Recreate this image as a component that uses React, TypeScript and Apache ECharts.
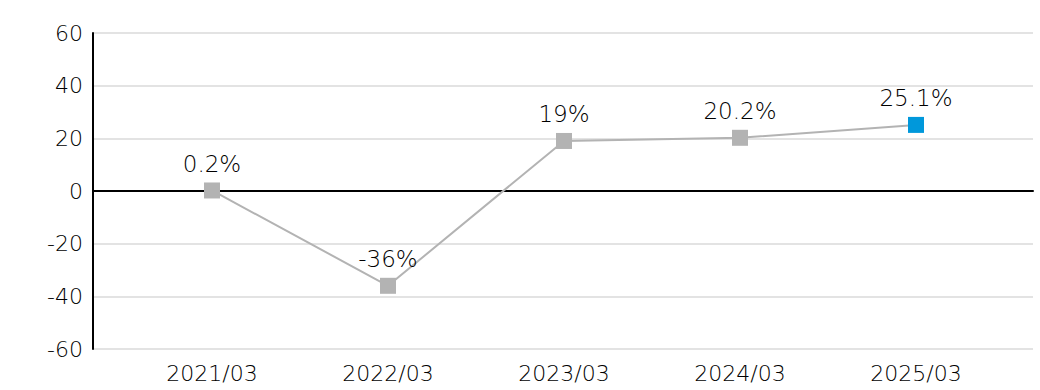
import React, { useEffect, useRef } from "react";
import * as echarts from "echarts";

const categories = ["2021/03", "2022/03", "2023/03", "2024/03", "2025/03"];
const values = [0.2, -36, 19, 20.2, 25.1];
const valueLabels = ["0.2%", "-36%", "19%", "20.2%", "25.1%"];
const yMin = -60;
const yMax = 60;
const yStep = 20;

const FONT = "'DejaVu Sans', sans-serif";
const WEIGHT = 200;
const TEXT = "#000000";
const GRAY = "#b3b3b3";
const BLUE = "#0098db";

export default function App() {
  const ref = useRef<HTMLDivElement>(null);
  useEffect(() => {
    if (!ref.current) return;
    const chart = echarts.init(ref.current, undefined, { renderer: "svg" });
    const last = values.length - 1;
    chart.setOption({
      animation: false,
      backgroundColor: "#ffffff",
      textStyle: { fontFamily: FONT },
      grid: [
        { left: 93, right: 7, top: 33, bottom: 41 },
        { left: 124, right: 36, top: 33, bottom: 41 },
      ],
      xAxis: [
        {
          gridIndex: 0,
          type: "value",
          min: 0,
          max: 1,
          axisLine: { show: true, onZero: true, lineStyle: { color: "#000", width: 2 } },
          axisTick: { show: false },
          axisLabel: { show: false },
          splitLine: { show: false },
        },
        {
          gridIndex: 1,
          type: "category",
          data: categories,
          boundaryGap: true,
          axisLine: { show: false },
          axisTick: { show: false },
          splitLine: { show: false },
          axisLabel: {
            color: TEXT,
            fontSize: 22,
            fontWeight: WEIGHT,
            fontFamily: FONT,
            margin: 13,
          },
        },
      ],
      yAxis: [
        {
          gridIndex: 0,
          type: "value",
          min: yMin,
          max: yMax,
          interval: yStep,
          axisLine: { show: true, lineStyle: { color: "#000", width: 2 } },
          axisTick: { show: false },
          axisLabel: { color: TEXT, fontSize: 22, fontWeight: WEIGHT, fontFamily: FONT, margin: 10 },
          splitLine: { show: true, lineStyle: { color: "#e3e3e3", width: 2 } },
        },
        {
          gridIndex: 1,
          type: "value",
          min: yMin,
          max: yMax,
          interval: yStep,
          show: false,
        },
      ],
      series: [
        {
          type: "line",
          xAxisIndex: 1,
          yAxisIndex: 1,
          data: values.map((v, i) => ({
            value: v,
            itemStyle: { color: i === last ? BLUE : GRAY },
          })),
          symbol: "rect",
          symbolSize: 16,
          lineStyle: { color: GRAY, width: 2 },
          label: {
            show: true,
            position: "top",
            distance: 7,
            color: TEXT,
            fontSize: 23,
            fontWeight: WEIGHT,
            fontFamily: FONT,
            formatter: (p: any) => valueLabels[p.dataIndex],
          },
          z: 5,
        },
      ],
    });
    return () => chart.dispose();
  }, []);
  return (
    <div
      ref={ref}
      style={{ position: "fixed", left: 0, top: 0, width: 1040, height: 390 }}
    />
  );
}
